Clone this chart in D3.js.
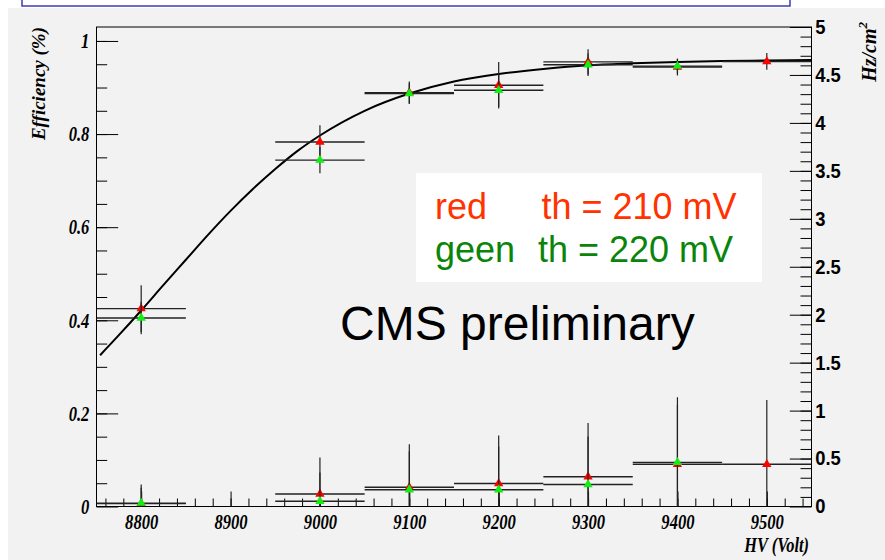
<!DOCTYPE html>
<html>
<head>
<meta charset="utf-8">
<script src="https://cdn.jsdelivr.net/npm/d3@7"></script>
<style>
  body { margin: 0; background: #ffffff; }
  .serif { font-family: 'Liberation Serif', 'Times New Roman', serif; font-weight: bold; font-style: italic; }
  .sans { font-family: 'Liberation Sans', Arial, Helvetica, sans-serif; }
</style>
</head>
<body>
<svg id="chart" width="885" height="560"></svg>
<script>

// high voltage points (Volt)
var hv = [8800, 9000, 9100, 9200, 9300, 9400, 9500];
var hvGreen = [8800, 9000, 9100, 9200, 9300, 9400];

// efficiency
var effRed = [0.425, 0.783, 0.889, 0.905, 0.955, 0.944, 0.956];
var effRedErr = [0.05, 0.036, 0.024, 0.05, 0.027, 0.018, 0.018];
var effGreen = [0.405, 0.744, 0.887, 0.894, 0.949, 0.946];
var effGreenErr = [0.035, 0.028, 0.022, 0.036, 0.024, 0.016];

// noise rate (Hz/cm2)
var rateRed = [0.03, 0.13, 0.2, 0.24, 0.31, 0.44, 0.44];
var rateRedErr = [0.2, 0.38, 0.45, 0.5, 0.56, 0.7, 0.67];
var rateGreen = [0.035, 0.055, 0.175, 0.175, 0.23, 0.46];
var rateGreenErr = [0.16, 0.3, 0.4, 0.45, 0.5, 0.6];

// fitted efficiency curve
var hvFit = [8754, 8775, 8800, 8825, 8850, 8875, 8900, 8925, 8950, 8975, 9000,
  9050, 9100, 9150, 9200, 9250, 9300, 9350, 9400, 9450, 9500, 9550];
var effFit = [0.325, 0.368, 0.421, 0.476, 0.53, 0.584, 0.635, 0.682, 0.725, 0.764, 0.797,
  0.85, 0.887, 0.913, 0.929, 0.94, 0.948, 0.952, 0.955, 0.957, 0.958, 0.959];

// axis ticks
var xTicks = [8800, 8900, 9000, 9100, 9200, 9300, 9400, 9500];
var effTicks = [0, 0.2, 0.4, 0.6, 0.8, 1];
var rateTicks = [0, 0.5, 1, 1.5, 2, 2.5, 3, 3.5, 4, 4.5, 5];

var halfBin = 50;

// frame (window.top is read-only, so no bare 'top' here)
var frameLeft = 96.5, frameRight = 811.5, frameTop = 27, frameBottom = 506.5;

var svg = d3.select('#chart');

var x = d3.scaleLinear().domain([8750, 9550]).range([frameLeft, frameRight]);
var yEff = d3.scaleLinear().domain([0, 1.03]).range([frameBottom, frameTop]);
var yRate = d3.scaleLinear().domain([0, 5]).range([frameBottom, frameTop]);

// page background and the box cut at the top
svg.append('rect').attr('x', 8).attr('y', 8).attr('width', 885).attr('height', 560)
  .attr('fill', '#f2f2f2');
svg.append('rect').attr('x', 22).attr('y', -6).attr('width', 768).attr('height', 12)
  .attr('fill', '#ffffff').attr('stroke', '#3c3cb4').attr('stroke-width', 1.5);

svg.append('clipPath').attr('id', 'plotclip')
  .append('rect')
  .attr('x', frameLeft).attr('y', frameTop)
  .attr('width', frameRight - frameLeft).attr('height', frameBottom - frameTop);

// minor ticks first, majors on top
function minorRange(a, b, step) {
  var out = [];
  for (var v = a; v <= b + 1e-9; v += step) out.push(+v.toFixed(3));
  return out;
}

function styleAxis(g) {
  g.select('.domain').remove();
  g.selectAll('line').attr('stroke', '#000').attr('stroke-width', 1);
}

svg.append('g')
  .attr('transform', 'translate(0,' + frameBottom + ')')
  .call(d3.axisBottom(x).tickValues(minorRange(8760, 9540, 20)).tickSize(-8).tickFormat(''))
  .call(styleAxis);

svg.append('g')
  .attr('transform', 'translate(' + frameLeft + ',0)')
  .call(d3.axisLeft(yEff).tickValues(minorRange(0.05, 1, 0.05)).tickSize(-10.7).tickFormat(''))
  .call(styleAxis);

svg.append('g')
  .attr('transform', 'translate(' + frameRight + ',0)')
  .call(d3.axisRight(yRate).tickValues(minorRange(0.1, 4.9, 0.1)).tickSize(-11).tickFormat(''))
  .call(styleAxis);

// ROOT's label font is a tall, narrow times: squeeze it sideways
var xAxis = svg.append('g')
  .attr('transform', 'translate(0,' + frameBottom + ')')
  .call(d3.axisBottom(x).tickValues(xTicks).tickSize(-15).tickPadding(8).tickFormat(d3.format('d')))
  .call(styleAxis);
xAxis.selectAll('text')
  .attr('class', 'serif')
  .attr('font-size', 21).attr('fill', '#000')
  .attr('transform', 'scale(0.79,1)');

var effAxis = svg.append('g')
  .attr('transform', 'translate(' + frameLeft + ',0)')
  .call(d3.axisLeft(yEff).tickValues(effTicks).tickSize(-21.7).tickPadding(9).tickFormat(d3.format('')))
  .call(styleAxis);
effAxis.selectAll('text')
  .attr('class', 'serif')
  .attr('font-size', 21).attr('fill', '#000')
  .attr('transform', 'scale(0.79,1)');

var rateAxis = svg.append('g')
  .attr('transform', 'translate(' + frameRight + ',0)')
  .call(d3.axisRight(yRate).tickValues(rateTicks).tickSize(-21.7).tickPadding(4).tickFormat(d3.format('')))
  .call(styleAxis);
rateAxis.selectAll('text')
  .attr('class', 'sans')
  .attr('font-weight', 'bold')
  .attr('font-size', 20).attr('fill', '#000')
  .attr('transform', 'scale(0.92,1)');

// frame box
svg.append('rect')
  .attr('x', frameLeft).attr('y', frameTop)
  .attr('width', frameRight - frameLeft).attr('height', frameBottom - frameTop)
  .attr('fill', 'none').attr('stroke', '#000').attr('stroke-width', 1);

// axis titles
svg.append('text')
  .attr('class', 'serif')
  .attr('transform', 'translate(45,' + frameTop + ') rotate(-90)')
  .attr('text-anchor', 'end')
  .attr('font-size', 19)
  .text('Efficiency (%)');

var rateTitle = svg.append('text')
  .attr('class', 'serif')
  .attr('transform', 'translate(876,22) rotate(-90)')
  .attr('text-anchor', 'end')
  .attr('font-size', 20);
rateTitle.append('tspan').text('Hz/cm');
rateTitle.append('tspan').attr('font-size', 13).attr('dy', -9).text('2');

svg.append('text')
  .attr('class', 'serif')
  .attr('transform', 'translate(809,552) scale(0.82,1)')
  .attr('text-anchor', 'end')
  .attr('font-size', 20)
  .text('HV (Volt)');

// data layer, clipped to the frame
var plot = svg.append('g').attr('clip-path', 'url(#plotclip)');

plot.append('path')
  .datum(d3.zip(hvFit, effFit))
  .attr('d', d3.line()
    .x(function(d) { return x(d[0]); })
    .y(function(d) { return yEff(d[1]); })
    .curve(d3.curveMonotoneX))
  .attr('fill', 'none')
  .attr('stroke', '#000')
  .attr('stroke-width', 2);

function add_points(xs, vals, errs, yScale, color) {
  var data = d3.zip(xs, vals, errs);
  var g = plot.append('g');

  // horizontal bin bars
  g.selectAll('line.hbar')
    .data(data)
    .enter()
    .append('line')
    .attr('x1', function(d) { return x(d[0] - halfBin); })
    .attr('x2', function(d) { return x(d[0] + halfBin); })
    .attr('y1', function(d) { return yScale(d[1]); })
    .attr('y2', function(d) { return yScale(d[1]); })
    .attr('stroke', '#222').attr('stroke-width', 1.4);

  // vertical error bars
  g.selectAll('line.vbar')
    .data(data)
    .enter()
    .append('line')
    .attr('x1', function(d) { return x(d[0]); })
    .attr('x2', function(d) { return x(d[0]); })
    .attr('y1', function(d) { return yScale(d[1] - d[2]); })
    .attr('y2', function(d) { return yScale(d[1] + d[2]); })
    .attr('stroke', '#222').attr('stroke-width', 1.2);

  g.selectAll('path.marker')
    .data(data)
    .enter()
    .append('path')
    .attr('d', d3.symbol(d3.symbolTriangle, 38))
    .attr('transform', function(d) { return 'translate(' + x(d[0]) + ',' + yScale(d[1]) + ')'; })
    .attr('fill', color);
}

add_points(hv, effRed, effRedErr, yEff, '#ff0000');
add_points(hv, rateRed, rateRedErr, yRate, '#ff0000');
add_points(hvGreen, effGreen, effGreenErr, yEff, '#11ee11');
add_points(hvGreen, rateGreen, rateGreenErr, yRate, '#11ee11');

// legend box
svg.append('rect')
  .attr('x', 416).attr('y', 173)
  .attr('width', 346).attr('height', 109)
  .attr('fill', '#ffffff');

var legend = [
  { label: 'red', th: 'th = 210 mV', color: '#ff3300', y: 219, thx: 541.5 },
  { label: 'geen', th: 'th = 220 mV', color: '#0a850a', y: 262, thx: 538 }
];

legend.forEach(function(d) {
  svg.append('text').attr('class', 'sans')
    .attr('x', 435).attr('y', d.y)
    .attr('font-size', 36).attr('fill', d.color)
    .text(d.label);
  svg.append('text').attr('class', 'sans')
    .attr('x', d.thx).attr('y', d.y)
    .attr('font-size', 36).attr('fill', d.color)
    .text(d.th);
});

svg.append('text').attr('class', 'sans')
  .attr('x', 340).attr('y', 340)
  .attr('font-size', 48).attr('fill', '#000')
  .text('CMS preliminary');

</script>
</body>
</html>
